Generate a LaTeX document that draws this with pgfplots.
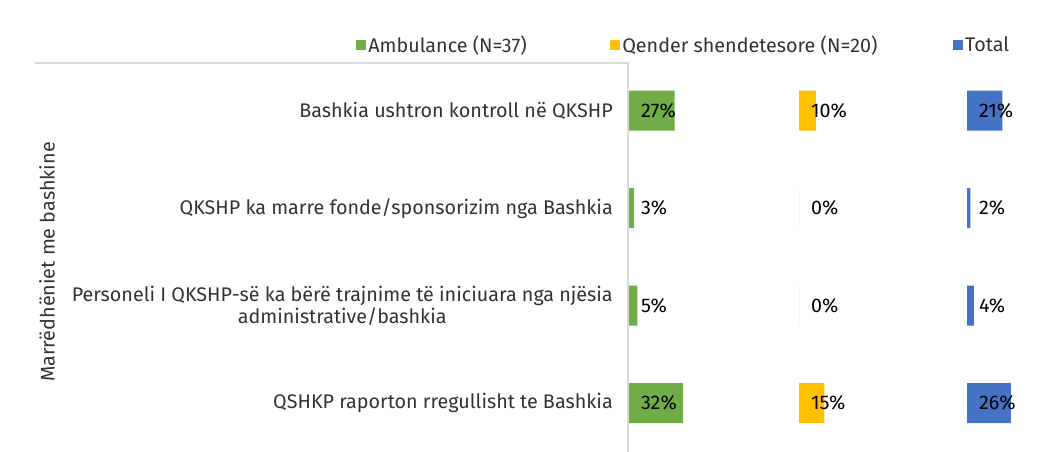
\documentclass[border=0pt]{standalone}
\usepackage{pgfplots}
\pgfplotsset{compat=1.18}
\usepackage{fontspec}
\setmainfont{Fira Sans}
\definecolor{cgreen}{HTML}{70AD47}
\definecolor{cyellow}{HTML}{FFC000}
\definecolor{cblue}{HTML}{4472C4}
\definecolor{cline}{HTML}{D9D9D9}
\definecolor{ctext}{HTML}{333333}
\newcommand\lbl{\fontsize{14.8}{17}\selectfont}
\pgfplotsset{
  panel/.style={
    scale only axis, width=126.75pt, height=292.5pt,
    xmin=0, xmax=100, ymin=0.5, ymax=4.5, y dir=reverse,
    axis line style={draw=none}, xtick=\empty, major tick length=0pt,
    anchor=south west, bar width=30pt, clip=false,
    legend style={draw=none, fill=none, font=\lbl, text=ctext, anchor=west, inner sep=0pt,
      legend cell align=left},
    legend image code/.code={\fill[##1] (0pt,-4pt) rectangle (7pt,4pt);},
  },
  lab/.style={only marks, mark=*, mark size=0pt, mark options={draw=none, fill=none},
    nodes near coords, point meta=explicit symbolic,
    every node near coord/.style={anchor=west, inner sep=0pt, font=\lbl, text=black}},
}
\begin{document}
\begin{tikzpicture}
\useasboundingbox (0,0) rectangle (790.5pt,339pt);
% Panel 1: Ambulance
\begin{axis}[panel, at={(471.75pt,0pt)},
  ytick={1,2,3,4},
  yticklabels={Bashkia ushtron kontroll në QKSHP,
    QKSHP ka marre fonde/sponsorizim nga Bashkia,
    {Personeli I QKSHP-së ka bërë trajnime të iniciuara nga njësia\\administrative/bashkia},
    QSHKP raporton rregullisht te Bashkia},
  yticklabel style={align=center, font=\lbl, text=ctext, inner sep=0pt, xshift=-12pt},
  legend style={at={(-1.615,1.0436)}}]
\addplot[xbar, fill=cgreen, draw=none] coordinates {(27,1) (3,2) (5,3) (32,4)};
\addlegendentry{Ambulance (N=37)}
\addplot[lab, forget plot] coordinates {(7,1) [27\%] (7,2) [3\%] (7,3) [5\%] (7,4) [32\%]};
\end{axis}
% Panel 2: Qender shendetesore
\begin{axis}[panel, at={(599.25pt,0pt)}, ytick=\empty,
  legend style={at={(-1.118,1.0436)}}]
\addplot[xbar, fill=cyellow, draw=none] coordinates {(10,1) (0,2) (0,3) (15,4)};
\addlegendentry{Qender shendetesore (N=20)}
\addplot[lab, forget plot] coordinates {(7,1) [10\%] (7,2) [0\%] (7,3) [0\%] (7,4) [15\%]};
\end{axis}
% Panel 3: Total
\begin{axis}[panel, at={(725.25pt,0pt)}, ytick=\empty,
  legend style={at={(-0.083,1.0436)}}]
\addplot[xbar, fill=cblue, draw=none] coordinates {(21,1) (2,2) (4,3) (26,4)};
\addlegendentry{Total}
\addplot[lab, forget plot] coordinates {(7,1) [21\%] (7,2) [2\%] (7,3) [4\%] (7,4) [26\%]};
\end{axis}
\draw[cline, line width=0.8pt] (26.25pt,291.75pt) -- (471pt,291.75pt) -- (471pt,0pt);
\node[rotate=90, font=\lbl, text=ctext] at (35.25pt,142.5pt) {Marrëdhëniet me bashkine};
\end{tikzpicture}
\end{document}
